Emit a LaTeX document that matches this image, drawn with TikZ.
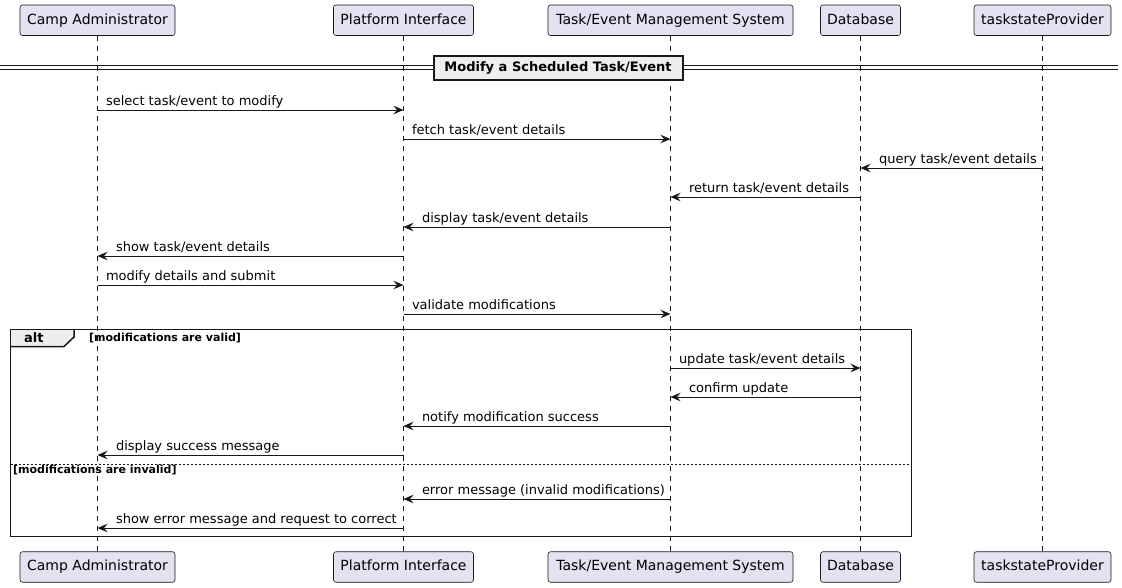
\documentclass[tikz,border=0pt]{standalone}
\usepackage{fontspec}
\setmainfont{DejaVu Sans}
\usetikzlibrary{arrows.meta}
\definecolor{pfill}{HTML}{E2E2F0}
\definecolor{lcol}{HTML}{181818}
\definecolor{gfill}{HTML}{EEEEEE}
\tikzset{
  part/.style={draw=lcol, fill=pfill, rounded corners=2.5pt, line width=0.6pt,
    font=\fontsize{14}{16}\selectfont, inner sep=0pt, minimum height=30.5pt, text=black,
    text height=10.5pt, text depth=3pt},
  life/.style={draw=lcol, line width=0.5pt, dash pattern=on 5pt off 5pt},
  msg/.style={draw=lcol, line width=1pt, -{Stealth[length=10pt,width=8.5pt,inset=3.5pt]}},
  lblR/.style={anchor=base west, font=\fontsize{13}{15}\selectfont, inner sep=0pt, xshift=8pt, yshift=5pt},
  lblL/.style={anchor=base west, font=\fontsize{13}{15}\selectfont, inner sep=0pt, xshift=18pt, yshift=5pt},
  guard/.style={anchor=west, font=\bfseries\fontsize{11}{13}\selectfont, inner sep=0pt},
}
\begin{document}
\begin{tikzpicture}[x=1pt,y=-1pt]
\useasboundingbox (0,0) rectangle (1122,587);
% participants top
\node[part, minimum width=155pt] (caT) at (97.5,20.25) {Camp Administrator};
\node[part, minimum width=140pt] (piT) at (403.5,20.25) {Platform Interface};
\node[part, minimum width=245pt] (tmT) at (670.5,20.25) {Task/Event Management System};
\node[part, minimum width=80pt]  (dbT) at (860.5,20.25) {Database};
\node[part, minimum width=137pt] (tpT) at (1042.5,20.25) {taskstateProvider};
% participants bottom
\node[part, minimum width=155pt] (caB) at (97.5,567) {Camp Administrator};
\node[part, minimum width=140pt] (piB) at (403.5,567) {Platform Interface};
\node[part, minimum width=245pt] (tmB) at (670.5,567) {Task/Event Management System};
\node[part, minimum width=80pt]  (dbB) at (860.5,567) {Database};
\node[part, minimum width=137pt] (tpB) at (1042.5,567) {taskstateProvider};
% lifelines
\draw[life] (caT.south) -- (caB.north);
\draw[life] (piT.south) -- (piB.north);
\draw[life] (tmT.south) -- (tmB.north);
\draw[life] (dbT.south) -- (dbB.north);
\draw[life] (tpT.south) -- (tpB.north);
% divider
\draw[lcol, line width=1pt] (0,65.5) -- (1118,65.5);
\draw[lcol, line width=1pt] (0,69) -- (1118,69);
\node[draw=lcol, fill=gfill, line width=2pt, minimum width=249pt, minimum height=24pt, inner sep=0pt,
  font=\bfseries\fontsize{13}{15}\selectfont] (div) at (558,67.5) {Modify a Scheduled Task/Event};
% message rows
\foreach \n/\y in {1/110,2/139,3/168,4/197,5/227,6/256,7/285,8/314,9/368,10/397,11/426,12/455,13/499,14/528}
  \coordinate (m\n) at (0,\y);
\draw[msg] (caT |- m1) -- (piT |- m1) node[lblR, pos=0] {select task/event to modify};
\draw[msg] (piT |- m2) -- (tmT |- m2) node[lblR, pos=0] {fetch task/event details};
\draw[msg] (tpT |- m3) -- (dbT |- m3) node[lblL, pos=1] {query task/event details};
\draw[msg] (dbT |- m4) -- (tmT |- m4) node[lblL, pos=1] {return task/event details};
\draw[msg] (tmT |- m5) -- (piT |- m5) node[lblL, pos=1] {display task/event details};
\draw[msg] (piT |- m6) -- (caT |- m6) node[lblL, pos=1] {show task/event details};
\draw[msg] (caT |- m7) -- (piT |- m7) node[lblR, pos=0] {modify details and submit};
\draw[msg] (piT |- m8) -- (tmT |- m8) node[lblR, pos=0] {validate modifications};
% alt fragment
\coordinate (altNW) at (10.5,329.5);
\coordinate (altSE) at (911.5,536.5);
\fill[gfill] (10.5,329.5) -- (74,329.5) -- (74,337) -- (64,346.5) -- (10.5,346.5) -- cycle;
\draw[lcol, line width=1.5pt] (74,329.5) -- (74,337) -- (64,346.5) -- (10.5,346.5);
\draw[lcol, line width=1.5pt] (altNW) rectangle (altSE);
\node[anchor=west, font=\bfseries\fontsize{13}{15}\selectfont, inner sep=0pt] (altlbl) at (24,338) {alt};
\node[guard] (g1) at (89,338.5) {[modifications are valid]};
\draw[msg] (tmT |- m9) -- (dbT |- m9) node[lblR, pos=0] {update task/event details};
\draw[msg] (dbT |- m10) -- (tmT |- m10) node[lblL, pos=1] {confirm update};
\draw[msg] (tmT |- m11) -- (piT |- m11) node[lblL, pos=1] {notify modification success};
\draw[msg] (piT |- m12) -- (caT |- m12) node[lblL, pos=1] {display success message};
\coordinate (sepL) at (10.5,464);
\coordinate (sepR) at (911.5,464);
\draw[lcol, line width=0.8pt, dash pattern=on 2pt off 2pt] (sepL) -- (sepR);
\node[guard] (g2) at (13,470.5) {[modifications are invalid]};
\draw[msg] (tmT |- m13) -- (piT |- m13) node[lblL, pos=1] {error message (invalid modifications)};
\draw[msg] (piT |- m14) -- (caT |- m14) node[lblL, pos=1] {show error message and request to correct};
\end{tikzpicture}
\end{document}
